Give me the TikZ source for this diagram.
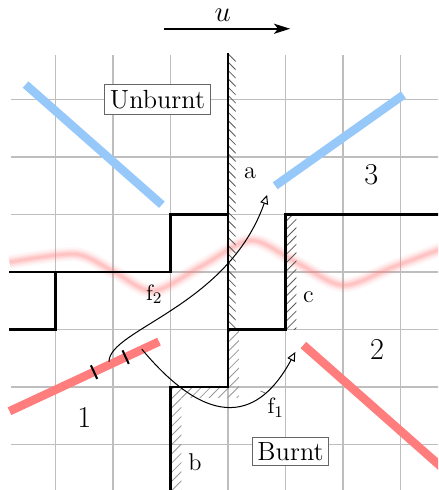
\documentclass[tikz,border=0pt]{standalone}
\usepackage{amsmath}
\usepackage{tikz}
\usetikzlibrary{arrows.meta, positioning}
\definecolor{Celeste}{RGB}{150, 200, 250}
\definecolor{Salmon}{RGB}{255, 125, 125}
\definecolor{Rejilla}{RGB}{190, 190, 190}

\begin{document}
\begin{tikzpicture}[
        mesh/.style={
            draw=Rejilla,
            line width=0.8pt
        },
        wall/.style={
            draw=black,
            line width=1.3pt
        },
        hatchdark/.style={
            draw=black!65,
            line width=0.4pt
        },
        hatchlight/.style={
            draw=black!40,
            line width=0.4pt
        },
        cold/.style={
            draw=Celeste,
            line width=4.2pt
        },
        hot/.style={
            draw=Salmon,
            line width=4.2pt
        },
        tickmark/.style={
            draw=black,
            line width=1pt
        },
        flux/.style={
            -{Triangle[open, length=4.5pt, width=4pt]},
            line width=0.5pt
        },
        pinline/.style={
            draw=black!60,
            line width=0.3pt
        },
        tag/.style={
            rectangle,
            draw=black!60,
            fill=white,
            line width=0.5pt,
            inner sep=2.6pt,
            font=\fontsize{13}{15}\selectfont
        },
        region/.style={font=\fontsize{15}{18}\selectfont},
        side/.style={font=\fontsize{12}{14}\selectfont}
    ]
        \useasboundingbox (-3.965,-3.79) rectangle (3.652,4.73);
        \clip (-3.965,-3.79) rectangle (3.652,4.73);

        % Background grid
        \draw[mesh] (-3.78,-3.8) grid (3.8,3.78);

        % Blurred flame front
        \foreach \w/\o in {7pt/0.06, 5.5pt/0.08, 4pt/0.12, 2.5pt/0.16, 1.2pt/0.16}
            \draw[Salmon, line width=\w, opacity=\o] plot[smooth] coordinates {(-3.8,0.17) (-2.65,0.31) (-1.98,0.0) (-1.3,-0.33) (-0.45,0.11) (0.4,0.55) (1.2,0.16) (2.0,-0.23) (2.85,0.08) (3.7,0.4)};

        % Hatched sides of the walls
        \begin{scope}
            \clip (0,3.78) rectangle (0.13,-1);
            \foreach \y in {-1,-0.855,...,4.0}
                \draw[hatchdark] (0.01,\y) -- ++(0.3,-0.3);
        \end{scope}
        \begin{scope}
            \clip (1,1) rectangle (1.19,-1);
            \foreach \y in {-1.3,-1.155,...,1.1}
                \draw[hatchdark] (1,\y) -- ++(0.3,0.3);
        \end{scope}
        \begin{scope}
            \clip (0,-1) -- (0.19,-1) -- (0.19,-2.19) -- (-0.81,-2.19) -- (-0.81,-3.8) -- (-1,-3.8) -- (-1,-2) -- (0,-2) -- cycle;
            \foreach \c in {-4.1,-3.94,...,0.1}
                \draw[hatchlight] (-1.2,-1.2+\c) -- (0.4,0.4+\c);
        \end{scope}

        % Walls
        \draw[wall] (-3.8,0) -- (-1,0) -- (-1,1) -- (0,1);
        \draw[wall] (-3,0) -- (-3,-1) -- (-3.8,-1);
        \draw[wall] (0,3.8) -- (0,-2) -- (-1,-2) -- (-1,-3.8);
        \draw[wall] (0,-1) -- (1,-1) -- (1,1) -- (3.8,1);

        % Cold and hot characteristics
        \draw[cold] (-3.52,3.26) -- (-1.15,1.17);
        \draw[cold] (0.82,1.5) -- (3.05,3.08);
        \draw[hot] (-3.8,-2.42) -- (-1.2,-1.21);
        \draw[hot] (1.31,-1.27) -- (3.8,-3.47);
        \draw[tickmark] (-2.33,-1.74) ++(114.8:0.13) -- ++(294.8:0.26);
        \draw[tickmark] (-1.78,-1.48) ++(114.8:0.13) -- ++(294.8:0.26);

        % Flow direction
        \coordinate (ustart) at (-1.11,4.23);
        \coordinate (uend) at (1.08,4.23);
        \draw[-{Stealth[length=8pt, width=5pt, inset=2pt]}, line width=1pt] (ustart) -- (uend);
        \node[font=\Large, inner sep=0pt] (u) at (-0.09,4.47) {$u$};

        % Fluxes
        \coordinate (f2a) at (-2.07,-1.56);
        \coordinate (f2b) at (0.68,1.34);
        \draw[flux] (f2a) .. controls (-2.07,-1.0) and (0.0,-0.6) .. (f2b) coordinate[pos=0.48] (f2m);
        \node[font=\fontsize{11}{13}\selectfont] (f2lbl) at (-1.28,-0.39) {$\mathrm{f}_2$};
        \draw[pinline] (f2lbl.south east) to[out=-10, in=100] (f2m);

        \coordinate (f1a) at (-1.5,-1.34);
        \coordinate (f1b) at (1.17,-1.39);
        \draw[flux] (f1a) .. controls (-0.3,-2.78) and (0.55,-2.55) .. (f1b) coordinate[pos=0.74] (f1m);
        \node[font=\fontsize{11}{13}\selectfont] (f1lbl) at (0.83,-2.36) {$\mathrm{f}_1$};
        \draw[pinline] (f1lbl.north west) to[out=110, in=-70] (f1m);

        % Labels
        \node[tag] (unburnt) at (-1.226,3.0) {Unburnt};
        \node[tag] (burnt) at (1.087,-3.12) {Burnt};
        \node[side] (la) at (0.383,1.72) {a};
        \node[side] (lb) at (-0.574,-3.3) {b};
        \node[side] (lc) at (1.397,-0.43) {c};
        \node[region] (r1) at (-2.5,-2.53) {1};
        \node[region] (r2) at (2.59,-1.34) {2};
        \node[region] (r3) at (2.49,1.69) {3};

    \end{tikzpicture}
\end{document}
